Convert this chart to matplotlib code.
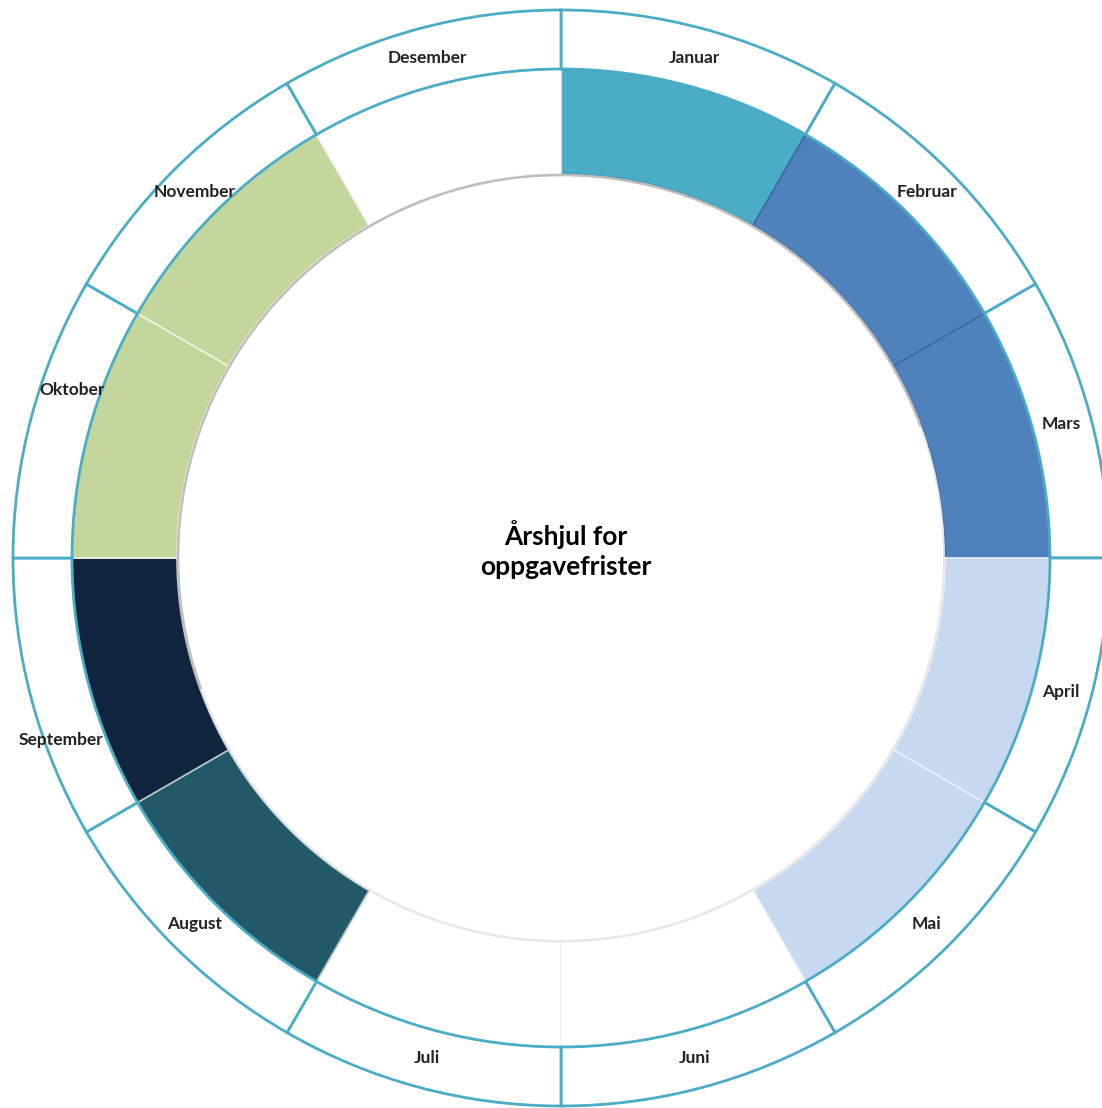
import matplotlib
matplotlib.use("Agg")
import matplotlib.pyplot as plt
from matplotlib.patches import Circle, Arc
import numpy as np

plt.rcParams['font.family'] = ['Lato', 'DejaVu Sans']

# måneder i årshjulet, med fargegruppe for hver
months = ["Januar", "Februar", "Mars", "April", "Mai", "Juni",
          "Juli", "August", "September", "Oktober", "November", "Desember"]
phase = ["a", "b", "b", "c", "c", None, None, "d", "e", "f", "f", None]
share = [1] * 12
title = "Årshjul for\noppgavefrister"

phase_colors = {"a": "#4BACC6", "b": "#4F81BD", "c": "#C6D9F1",
                "d": "#215968", "e": "#10243E", "f": "#C3D69B", None: "white"}
edge_colors = {"a": "#3C8FA8", "b": "#3D6A9E", "c": "#EAF1FA",
               "d": "#B8C4C8", "e": "#B8C4C8", "f": "#EEF3E2", None: "#F3F3F3"}
# små justeringer av etikettene: (grader, radius)
label_nudge = {"Oktober": (-4, 0), "September": (5, 15)}

teal = "#4BACC6"
W, H = 1102, 1108
cx, cy = 561, H - 558
r_out, r_mid, r_in = 548, 489, 384

fig = plt.figure(figsize=(W / 100, H / 100), dpi=100)
ax = fig.add_axes([0, 0, 1, 1])

# indre fargering
inner, _ = ax.pie(share, radius=r_mid, center=(cx, cy), startangle=90,
                  counterclock=False,
                  colors=[phase_colors[p] for p in phase],
                  wedgeprops=dict(width=r_mid - r_in, linewidth=1.2))
for w, p in zip(inner, phase):
    w.set_edgecolor(edge_colors[p])

# skygge på innerkanten
ax.add_patch(Circle((cx, cy), r_in - 1, fill=False, edgecolor="#E6E6E6",
                    linewidth=1.4, zorder=3))
ax.add_patch(Arc((cx, cy), 2 * (r_in - 1), 2 * (r_in - 1), theta1=20,
                 theta2=200, edgecolor="#B5B5B5", linewidth=1.8, alpha=0.8,
                 zorder=3))

# ytre ring med månedsnavn
outer, _ = ax.pie(share, radius=r_out, center=(cx, cy), startangle=90,
                  counterclock=False, colors=["white"] * 12,
                  wedgeprops=dict(width=r_out - r_mid, edgecolor=teal,
                                  linewidth=2.0))

for w, m in zip(outer, months):
    d_ang, d_r = label_nudge.get(m, (0, 0))
    ang = np.deg2rad((w.theta1 + w.theta2) / 2 + d_ang)
    r_lab = (r_out + r_mid) / 2 - 1 + d_r
    ax.text(cx + r_lab * np.cos(ang), cy + r_lab * np.sin(ang), m,
            ha="center", va="center", fontsize=12.5, fontweight="bold",
            color="#222222", zorder=5)

ax.text(cx + 5, cy + 8, title, ha="center", va="center", fontsize=19,
        fontweight="bold", color="black", linespacing=1.3)

ax.set_xlim(0, W)
ax.set_ylim(0, H)
ax.set_aspect("equal")
ax.axis("off")
fig.savefig("out.png", dpi=100, facecolor="white")
